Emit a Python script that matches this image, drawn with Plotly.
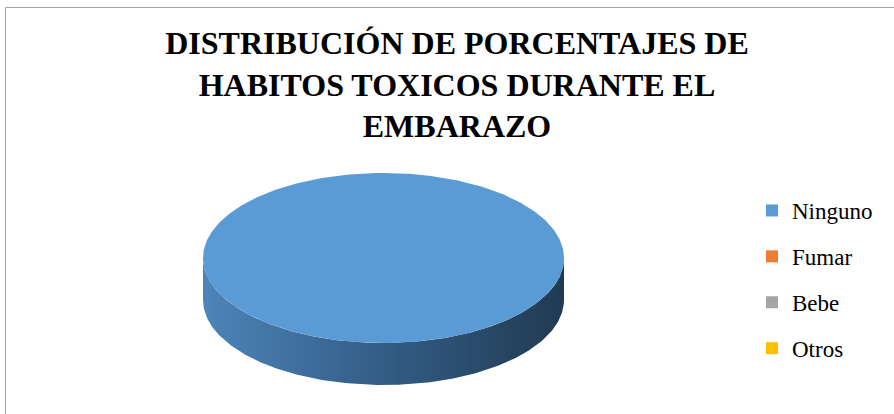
import numpy as np
import plotly.graph_objects as go

# ---- data ----
categories = ["Ninguno", "Fumar", "Bebe", "Otros"]
values = [100, 0, 0, 0]
colors = ["#5b9bd5", "#ed7d31", "#a5a5a5", "#ffc000"]
title_lines = ["DISTRIBUCIÓN DE PORCENTAJES DE", "HABITOS TOXICOS DURANTE EL", "EMBARAZO"]

SERIF = "Liberation Serif"

# ---- geometry of the 3D pie (pixel space of an invisible axis) ----
W, H = 894, 414
cx, cy, a, b, depth = 383.5, 258, 180.5, 85, 42

fig = go.Figure()

total = float(sum(values))
cum = np.concatenate([[0], np.cumsum(values)]) / total
start = -np.pi / 2  # 12 o'clock, clockwise on screen (y down)

side_scale = [[0, "#4d85ba"], [0.45, "#35608a"], [1, "#213a52"]]

# side bands (front half of the pie: theta in [0, pi])
for i, v in enumerate(values):
    if v <= 0:
        continue
    t0 = start + 2 * np.pi * cum[i]
    t1 = start + 2 * np.pi * cum[i + 1]
    for shift in (0, 2 * np.pi):
        lo = max(t0, shift)
        hi = min(t1, shift + np.pi)
        if hi <= lo:
            continue
        th = np.linspace(lo, hi, 200)
        xt = cx + a * np.cos(th)
        yt = cy + b * np.sin(th)
        xs = np.concatenate([xt, xt[::-1]])
        ys = np.concatenate([yt, yt[::-1] + depth])
        fig.add_trace(go.Scatter(
            x=xs, y=ys, mode="lines", fill="toself",
            line=dict(width=0), fillgradient=dict(type="horizontal", colorscale=side_scale),
            showlegend=False, hoverinfo="skip"))

# top faces
for i, v in enumerate(values):
    if v <= 0:
        continue
    t0 = start + 2 * np.pi * cum[i]
    t1 = start + 2 * np.pi * cum[i + 1]
    th = np.linspace(t0, t1, 400)
    xs = cx + a * np.cos(th)
    ys = cy + b * np.sin(th)
    if values[i] < total:
        xs = np.concatenate([[cx], xs, [cx]])
        ys = np.concatenate([[cy], ys, [cy]])
    fig.add_trace(go.Scatter(
        x=xs, y=ys, mode="lines", fill="toself", fillcolor=colors[i],
        line=dict(width=0), showlegend=False,
        hovertemplate=f"{categories[i]}: {values[i]}%<extra></extra>"))

# legend entries
for i, c in enumerate(categories):
    fig.add_trace(go.Scatter(
        x=[-100], y=[-100], mode="markers", name=c, legendgroup=c,
        marker=dict(symbol="square", size=12, color=colors[i])))

fig.add_shape(type="rect", x0=5.5, y0=7.5, x1=W + 10, y1=H + 10,
              line=dict(color="#a6a6a6", width=1), fillcolor="rgba(0,0,0,0)", layer="below")

fig.update_layout(
    width=W, height=H,
    font=dict(family=SERIF, color="black"),
    margin=dict(l=0, r=0, t=0, b=0),
    paper_bgcolor="white", plot_bgcolor="white",
    xaxis=dict(range=[0, W], visible=False, fixedrange=True),
    yaxis=dict(range=[H, 0], visible=False, fixedrange=True),
    title=dict(text="<br>".join(title_lines), x=457 / W, y=1 - 54 / H,
               xanchor="center", yanchor="top",
               font=dict(family=SERIF, size=32, color="black", weight="bold")),
    showlegend=True,
    legend=dict(x=752 / W, y=1 - 189 / H, xanchor="left", yanchor="top",
                font=dict(family=SERIF, size=23, color="black"),
                traceorder="grouped", tracegroupgap=13, bgcolor="rgba(0,0,0,0)"),
)

fig.write_html("out.html", config={"displayModeBar": False},
               post_script="document.body.style.margin='0';document.body.style.overflow='hidden';")
